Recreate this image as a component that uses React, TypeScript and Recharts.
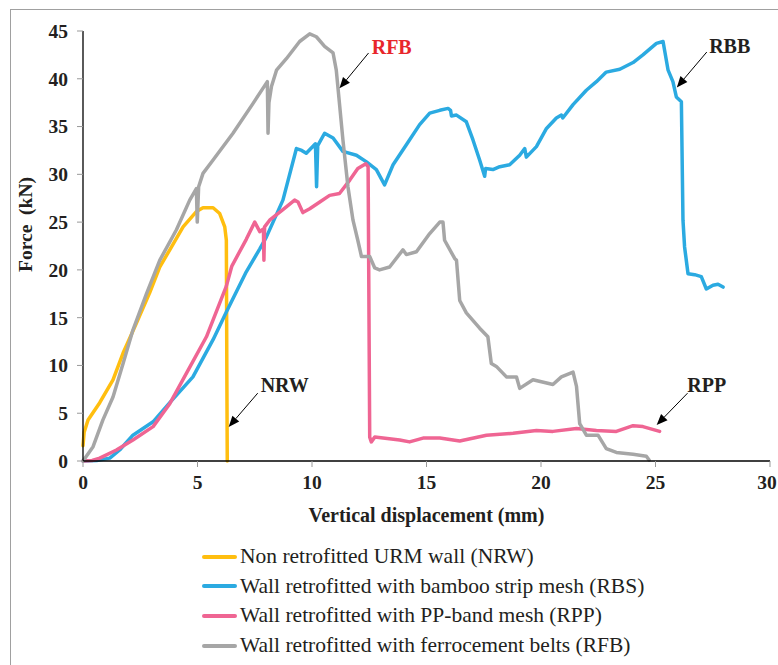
import React from "react";
import {
  LineChart,
  Line,
  XAxis,
  YAxis,
  Legend,
  ReferenceLine,
  ReferenceDot,
} from "recharts";

// ---- data (x = vertical displacement mm, y = force kN) ----
const nrwPoints: [number, number][] = [
  [0, 1.6], [0.05, 3.0], [0.22, 4.3], [0.73, 6.1], [1.31, 8.5], [1.75, 11.3],
  [2.33, 14.4], [2.91, 17.6], [3.35, 20.3], [3.79, 22.1], [4.37, 24.5],
  [4.95, 26.1], [5.24, 26.5], [5.68, 26.5], [5.97, 25.9], [6.19, 24.5],
  [6.26, 23.1], [6.28, 10], [6.3, 0],
];

const rbsPoints: [number, number][] = [
  [0, 0], [0.6, 0.05], [1.17, 0.3], [1.6, 1.15], [2.18, 2.7], [3.06, 4.1],
  [3.79, 6.1], [4.8, 8.8], [5.68, 12.7], [6.26, 15.6], [7.13, 19.8],
  [7.72, 22.2], [8.0, 23.4], [8.73, 27.3], [9.32, 32.7], [9.55, 32.5],
  [9.75, 32.2], [10.15, 33.2], [10.2, 28.7], [10.25, 33.0], [10.55, 34.3],
  [10.92, 33.8], [11.35, 32.4], [11.94, 32.0], [12.38, 31.3], [12.81, 30.5],
  [13.17, 28.9], [13.54, 31.0], [14.12, 33.1], [14.7, 35.2], [15.14, 36.4],
  [15.58, 36.7], [15.94, 36.9], [16.05, 36.7], [16.09, 36.1], [16.31, 36.2],
  [16.74, 35.5], [17.03, 33.6], [17.32, 31.5], [17.54, 29.8], [17.58, 30.6],
  [17.9, 30.5], [18.2, 30.8], [18.63, 31.0], [19.07, 32.0], [19.29, 32.7],
  [19.36, 31.8], [19.8, 32.9], [20.24, 34.8], [20.67, 35.9], [20.89, 36.2],
  [20.95, 35.9], [21.4, 37.3], [21.98, 38.8], [22.42, 39.7], [22.85, 40.7],
  [23.44, 41.0], [24.02, 41.7], [24.45, 42.5], [25.04, 43.7], [25.33, 43.9],
  [25.55, 40.9], [25.76, 39.7], [25.91, 38.1], [26.13, 37.6], [26.2, 25.2],
  [26.27, 22.4], [26.42, 19.6], [26.71, 19.5], [27.0, 19.3], [27.22, 18.0],
  [27.51, 18.4], [27.73, 18.5], [27.95, 18.2],
];

const rppPoints: [number, number][] = [
  [0, 0], [0.4, 0.05], [0.73, 0.3], [1.46, 1.15], [2.18, 2.2], [3.06, 3.6],
  [3.79, 6.0], [4.52, 9.2], [5.39, 13.0], [6.26, 18.3], [6.5, 20.4],
  [7.13, 23.2], [7.5, 25.0], [7.72, 24.0], [7.88, 24.3], [7.9, 21.0],
  [7.93, 24.5], [8.15, 25.2], [8.73, 26.3], [9.24, 27.3], [9.39, 27.1],
  [9.6, 26.0], [9.9, 26.4], [10.34, 27.1], [10.77, 27.8], [11.2, 28.0],
  [11.65, 29.4], [12.0, 30.6], [12.35, 31.1], [12.45, 30.8], [12.52, 2.5],
  [12.59, 2.0], [12.74, 2.5], [13.83, 2.2], [14.26, 2.0], [14.85, 2.4],
  [15.58, 2.4], [16.45, 2.1], [17.62, 2.7], [18.78, 2.9], [19.8, 3.2],
  [20.52, 3.1], [21.55, 3.4], [22.42, 3.2], [23.29, 3.1], [24.02, 3.7],
  [24.45, 3.6], [25.18, 3.1],
];

const rfbPoints: [number, number][] = [
  [0, 0], [0.44, 1.5], [0.87, 4.3], [1.31, 6.7], [1.75, 10.2], [2.18, 13.7],
  [2.77, 17.5], [3.35, 21.0], [4.08, 24.2], [4.66, 27.3], [4.95, 28.5],
  [4.99, 25.0], [5.05, 28.7], [5.24, 30.1], [5.68, 31.5], [6.55, 34.3],
  [7.42, 37.4], [8.05, 39.7], [8.08, 34.3], [8.12, 37.5], [8.23, 39.2],
  [8.45, 40.9], [8.88, 42.1], [9.46, 43.9], [9.9, 44.7], [10.19, 44.4],
  [10.55, 43.4], [10.92, 42.7], [11.06, 40.9], [11.2, 37.4], [11.35, 33.6],
  [11.57, 28.7], [11.79, 25.2], [12.0, 23.1], [12.16, 21.4], [12.52, 21.4],
  [12.74, 20.2], [12.95, 20.0], [13.39, 20.3], [13.97, 22.1], [14.12, 21.6],
  [14.56, 21.9], [15.14, 23.8], [15.58, 25.0], [15.72, 25.0], [15.79, 23.1],
  [16.23, 21.2], [16.31, 21.0], [16.45, 16.8], [16.74, 15.5], [17.32, 13.9],
  [17.68, 13.0], [17.83, 10.2], [18.05, 9.9], [18.49, 8.8], [18.93, 8.8],
  [19.07, 7.6], [19.65, 8.5], [20.52, 8.0], [20.89, 8.8], [21.4, 9.3],
  [21.55, 7.8], [21.69, 3.9], [21.98, 2.7], [22.49, 2.7], [22.85, 1.3],
  [23.29, 0.9], [24.02, 0.7], [24.6, 0.5], [24.72, 0.1],
];

const xTicks = [0, 5, 10, 15, 20, 25, 30];
const yTicks = [0, 5, 10, 15, 20, 25, 30, 35, 40, 45];

const seriesNames = [
  "Non retrofitted URM wall (NRW)",
  "Wall retrofitted with bamboo strip mesh (RBS)",
  "Wall retrofitted with PP-band mesh (RPP)",
  "Wall retrofitted with ferrocement belts (RFB)",
];
const seriesColors = ["#FFBE0F", "#2BAAE1", "#EF6593", "#A6A6A6"];

// annotations: label text, label position, arrow start, arrow tip (data units)
const annotations = [
  { text: "RFB", color: "#E8262B", at: [13.48, 43.3], from: [12.47, 42.7], to: [11.2, 39.0] },
  { text: "RBB", color: "#231F20", at: [28.24, 43.4], from: [27.24, 42.8], to: [25.93, 39.1] },
  { text: "NRW", color: "#231F20", at: [8.81, 7.95], from: [7.63, 7.1], to: [6.36, 3.56] },
  { text: "RPP", color: "#231F20", at: [27.24, 7.95], from: [26.4, 7.1], to: [25.05, 3.77] },
];

const toData = (pts: [number, number][]) => pts.map(([x, y]) => ({ x, y }));
const allSeries = [nrwPoints, rbsPoints, rppPoints, rfbPoints].map(toData);

const SERIF = "Liberation Serif, Times New Roman, serif";
const CHART_W = 778;

const Arrow = (props: any) => {
  const { x1, y1, x2, y2 } = props;
  if ([x1, y1, x2, y2].some((v) => typeof v !== "number" || isNaN(v))) return null;
  const ang = Math.atan2(y2 - y1, x2 - x1);
  const len = 11;
  const w = 4.5;
  const bx = x2 - len * Math.cos(ang);
  const by = y2 - len * Math.sin(ang);
  const px = -Math.sin(ang) * w;
  const py = Math.cos(ang) * w;
  return (
    <g>
      <line x1={x1} y1={y1} x2={bx} y2={by} stroke="#000" strokeWidth={1} />
      <polygon points={`${x2},${y2} ${bx + px},${by + py} ${bx - px},${by - py}`} fill="#000" />
    </g>
  );
};

const XTick = (props: any) => {
  const { x, y, payload } = props;
  const label = String(payload.value);
  const halfW = label.length * 5;
  const cx = Math.min(x, CHART_W - 1 - halfW);
  return (
    <text
      x={cx}
      y={y}
      dy="0.71em"
      textAnchor="middle"
      fontFamily={SERIF}
      fontWeight="bold"
      fontSize={19.5}
      fill="#231F20"
    >
      {label}
    </text>
  );
};

const renderLegend = () => (
  <div style={{ fontFamily: SERIF, fontSize: 21.5, color: "#231F20", lineHeight: 1 }}>
    {seriesNames.map((n, i) => (
      <div key={n} style={{ display: "flex", alignItems: "center", height: 29.6, whiteSpace: "nowrap" }}>
        <div style={{ width: 35, height: 4, background: seriesColors[i], borderRadius: 2, marginRight: 3 }} />
        <span>{n}</span>
      </div>
    ))}
  </div>
);

const YLabel = (props: any) => {
  const vb = props.viewBox || {};
  const cx = 25;
  const cy = (vb.y ?? 31) + (vb.height ?? 430) * 0.45;
  return (
    <text
      x={cx}
      y={cy}
      transform={`rotate(-90, ${cx}, ${cy})`}
      textAnchor="middle"
      dominantBaseline="central"
      fontFamily={SERIF}
      fontWeight="bold"
      fontSize={19.5}
      fill="#231F20"
      style={{ whiteSpace: "pre" }}
    >
      {"Force  (kN)"}
    </text>
  );
};

export default function App() {
  return (
    <div style={{ position: "absolute", left: 0, top: 0, width: 778, height: 665, background: "#fff" }}>
      <div
        style={{
          position: "absolute",
          left: 10,
          top: 9,
          width: 768,
          height: 656,
          borderTop: "1.5px solid #A0A0A0",
          borderLeft: "1.5px solid #A0A0A0",
          boxSizing: "border-box",
        }}
      />
      <div style={{ position: "absolute", left: 0, top: 0 }}>
        <LineChart
          width={CHART_W}
          height={665}
          margin={{ top: 31, right: 8, left: 23, bottom: 174 }}
        >
          <XAxis
            type="number"
            dataKey="x"
            domain={[0, 30]}
            ticks={xTicks}
            interval={0}
            allowDuplicatedCategory={false}
            height={30}
            axisLine={{ stroke: "#000", strokeWidth: 1.3 }}
            tickLine={{ stroke: "#999" }}
            tickSize={6}
            tickMargin={8}
            tick={<XTick />}
            label={{
              value: "Vertical displacement (mm)",
              position: "bottom",
              offset: 17,
              fontFamily: SERIF,
              fontWeight: "bold",
              fontSize: 20,
              fill: "#231F20",
            }}
          />
          <YAxis
            type="number"
            domain={[0, 45]}
            ticks={yTicks}
            interval={0}
            width={60}
            axisLine={{ stroke: "#000", strokeWidth: 1.3 }}
            tickLine={{ stroke: "#999" }}
            tickSize={6}
            tickMargin={9}
            tick={{ fontFamily: SERIF, fontWeight: "bold", fontSize: 19.5, fill: "#231F20" }}
            label={<YLabel />}
          />
          {allSeries.map((d, i) => (
            <Line
              key={seriesNames[i]}
              data={d}
              dataKey="y"
              name={seriesNames[i]}
              type="linear"
              stroke={seriesColors[i]}
              strokeWidth={3.5}
              dot={false}
              activeDot={false}
              isAnimationActive={false}
              strokeLinejoin="round"
              strokeLinecap="round"
            />
          ))}
          {annotations.map((a) => (
            <ReferenceLine
              key={a.text + "-arrow"}
              segment={[
                { x: a.from[0], y: a.from[1] },
                { x: a.to[0], y: a.to[1] },
              ]}
              shape={(p: any) => <Arrow {...p} />}
              ifOverflow="visible"
            />
          ))}
          {annotations.map((a) => (
            <ReferenceDot
              key={a.text + "-label"}
              x={a.at[0]}
              y={a.at[1]}
              r={0}
              fill="none"
              stroke="none"
              ifOverflow="visible"
              label={{
                value: a.text,
                position: "center",
                fill: a.color,
                fontFamily: SERIF,
                fontWeight: "bold",
                fontSize: 20,
              }}
            />
          ))}
          <Legend
            layout="vertical"
            align="center"
            verticalAlign="middle"
            content={renderLegend}
            wrapperStyle={{ left: 202, top: 542, width: 560, height: 120 }}
          />
        </LineChart>
      </div>
    </div>
  );
}
